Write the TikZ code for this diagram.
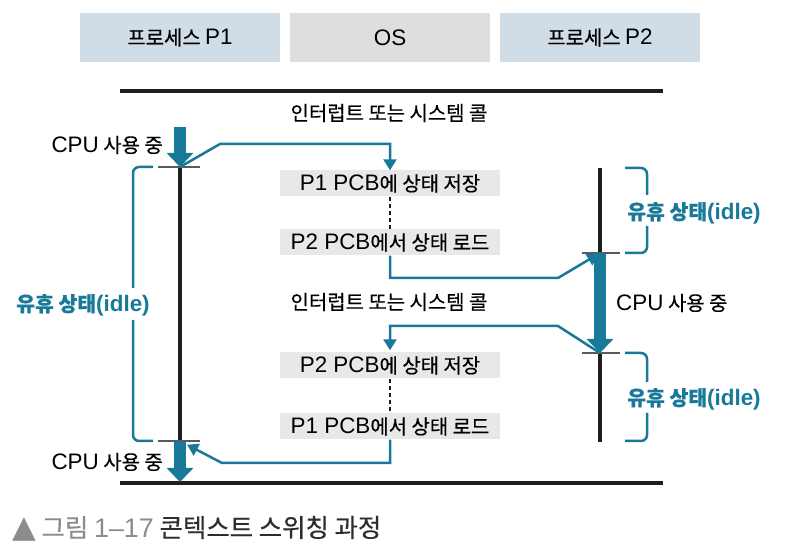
\documentclass[tikz,border=0pt]{standalone}
\usepackage{fontspec}
\setmainfont{Noto Sans CJK KR}[RawFeature={embolden=0.5}]
\newfontfamily\latfont{Liberation Sans}
\newfontfamily\symfont{DejaVu Sans}
\newcommand\latn[1]{{\latfont\fontsize{22.5}{26}\selectfont #1}}
\usetikzlibrary{arrows.meta}
\definecolor{tealc}{RGB}{24,122,152}
\definecolor{hdblue}{RGB}{208,221,231}
\definecolor{hdgray}{RGB}{222,222,222}
\definecolor{pcbgray}{RGB}{232,232,232}
\definecolor{barblack}{RGB}{30,30,30}
\definecolor{tickgray}{RGB}{90,90,90}
\definecolor{capgray}{RGB}{140,140,140}
\definecolor{captext}{RGB}{45,45,45}
\tikzset{
  head/.style={draw=none,minimum width=200bp,minimum height=49bp,inner sep=0pt,
    font=\fontsize{20}{24}\selectfont},
  pcb/.style={fill=pcbgray,minimum width=220bp,minimum height=26bp,inner sep=0pt,
    font=\fontsize{20}{24}\selectfont},
  lbl/.style={inner sep=0pt,font=\fontsize{20}{24}\selectfont},
  idle/.style={inner sep=0pt,text=tealc,font=\fontsize{20.5}{24}\selectfont\bfseries},
  flow/.style={draw=tealc,line width=2.5bp,-{Triangle[width=13bp,length=11bp]}},
  busy/.style={draw=tealc,line width=12bp,-{Triangle[width=26bp,length=14bp]}},
  run/.style={draw=barblack,line width=4bp},
  tick/.style={draw=tickgray,line width=1.5bp},
  brace/.style={draw=tealc,line width=2.5bp,rounded corners=6bp},
  bound/.style={draw=barblack,line width=4.5bp},
  gap/.style={draw=barblack,line width=1.5bp,dash pattern=on 4bp off 3bp},
}
\begin{document}
\begin{tikzpicture}[line join=miter]
\useasboundingbox (0bp,0bp) rectangle (804bp,558bp);
%% header
\node (hp1) at (180bp,520.5bp) [head,fill=hdblue] {프로세스 \latn{P1}};
\node (hos) at (390bp,520.5bp) [head,fill=hdgray] {\latn{OS}};
\node (hp2) at (600bp,520.5bp) [head,fill=hdblue] {프로세스 \latn{P2}};
\draw [bound] (120bp,467bp) -- (663bp,467bp);
\draw [bound] (120bp,75bp) -- (663bp,75bp);
%% labels
\node (intr1) at (389bp,445bp) [lbl] {인터럽트 또는 시스템 콜};
\node (intr2) at (389bp,256bp) [lbl] {인터럽트 또는 시스템 콜};
\node (cpu1) at (163bp,413bp) [lbl,anchor=east] {\latn{CPU} 사용 중};
\node (cpu2) at (616bp,255bp) [lbl,anchor=west] {\latn{CPU} 사용 중};
\node (cpu3) at (163bp,96bp) [lbl,anchor=east] {\latn{CPU} 사용 중};
\node (idle1) at (83bp,253bp) [idle] {유휴 상태\latn{(idle)}};
\node (idle2) at (694bp,345bp) [idle] {유휴 상태\latn{(idle)}};
\node (idle3) at (694bp,159bp) [idle] {유휴 상태\latn{(idle)}};
%% OS steps
\node (save1) at (390bp,374.5bp) [pcb] {\latn{P1 PCB}에 상태 저장};
\node (load2) at (390bp,315.5bp) [pcb] {\latn{P2 PCB}에서 상태 로드};
\node (save2) at (390bp,192.5bp) [pcb] {\latn{P2 PCB}에 상태 저장};
\node (load1) at (390bp,131.5bp) [pcb] {\latn{P1 PCB}에서 상태 로드};
%% switch points
\coordinate (a1) at (180bp,391bp);
\coordinate (a2) at (180bp,117bp);
\coordinate (b1) at (600bp,305bp);
\coordinate (b2) at (600bp,205bp);
%% timelines
\draw [run] (a1) -- (a2);
\draw [run] (600bp,390bp) -- (b1);
\draw [run] (b2) -- (600bp,116bp);
\draw [tick] ([xshift=-22bp]a1) -- ([xshift=20bp]a1);
\draw [tick] ([xshift=-22bp]a2) -- ([xshift=20bp]a2);
\draw [tick] ([xshift=-18bp]b1) -- ([xshift=20bp]b1);
\draw [tick] ([xshift=-18bp]b2) -- ([xshift=20bp]b2);
\draw [busy] (180bp,431bp) -- (a1);
\draw [busy] (a2) -- (180bp,76bp);
\draw [busy] (b1) -- (b2);
%% idle braces
\draw [brace] (133bp,270bp) |- (153bp,391bp);
\draw [brace] (133bp,238bp) |- (153bp,117bp);
\draw [brace] (625bp,390bp) -| (647bp,363bp);
\draw [brace] (647bp,332bp) |- (625bp,305bp);
\draw [brace] (625bp,205bp) -| (647bp,176bp);
\draw [brace] (647bp,145bp) |- (625bp,117bp);
%% switching flow
\draw [flow] (a1) -- (220bp,414bp) -| (save1);
\draw [gap] (save1) -- (load2);
\draw [flow,shorten >=2bp] (load2) -- (390bp,280bp) -- (558bp,280bp) -- (b1);
\draw [flow,shorten >=2bp] (b2) -- (558bp,232bp) -| (save2);
\draw [gap] (save2) -- (load1);
\draw [flow,shorten >=8bp] (load1) -- (390bp,95bp) -- (222bp,95bp) -- (a2);
%% caption
\node (cap) at (12bp,21bp) [anchor=base west,inner sep=0pt,font=\fontsize{25.5}{30}\selectfont]
  {{\symfont\color{capgray}\fontsize{31}{32}\selectfont ▲} \textcolor{capgray}{그림 {\latfont\fontsize{27}{30}\selectfont 1–17}} \textcolor{captext}{콘텍스트 스위칭 과정}};
\end{tikzpicture}
\end{document}
